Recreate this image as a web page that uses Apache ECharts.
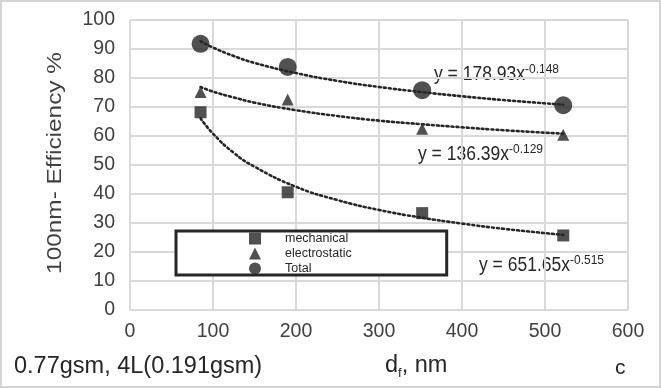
<!DOCTYPE html>
<html>
<head>
<meta charset="utf-8">
<script src="https://cdn.jsdelivr.net/npm/echarts@6/dist/echarts.min.js"></script>
<style>
	html, body { margin: 0; padding: 0; background: #fff; }
	#chart { width: 657px; height: 384px; border: 2px solid #d4d4d4; }
</style>
</head>
<body>
<div id="chart"></div>
<script>
// 数据
const xValues = [85, 190, 352, 522];
const mechanical = [68.2, 40.6, 33.4, 25.7];
const electrostatic = [75.2, 72.6, 62.5, 60.4];
const total = [91.8, 83.8, 75.8, 70.6];

// 趋势线
const trendX = [85, 100, 125, 150, 200, 250, 300, 350, 400, 450, 522];
const trendMech = [66.1, 60.8, 54.2, 49.4, 42.5, 37.9, 34.5, 31.9, 29.8, 28.0, 25.9];
const trendElec = [76.9, 75.3, 73.3, 71.5, 68.9, 66.9, 65.3, 64.1, 63.0, 62.0, 60.8];
const trendTotal = [92.7, 90.5, 87.6, 85.2, 81.7, 79.0, 76.9, 75.2, 73.7, 72.4, 70.8];

const xTicks = [0, 100, 200, 300, 400, 500, 600];
const yTicks = [0, 10, 20, 30, 40, 50, 60, 70, 80, 90, 100];

const ink = '#262626';
const font = 'Liberation Sans, Arial, sans-serif';

const chart = echarts.init(document.getElementById('chart'));

const pair = function (xs, ys) {
	return xs.map(function (x, i) { return [x, ys[i]]; });
};

const trend = function (name, data) {
	return {
		name: name,
		type: 'line',
		data: data,
		smooth: true,
		showSymbol: false,
		silent: true,
		z: 1,
		lineStyle: { color: ink, width: 2.6, type: [2, 3], cap: 'round' }
	};
};

// 趋势线公式 (带上标)
const equation = function (left, top, base, sup) {
	return {
		type: 'text', left: left, top: top, scaleY: 1.12,
		style: {
			text: '{b|' + base + '}{s|' + sup + '}', fontFamily: font,
			rich: {
				b: { fontSize: 17.5, fontFamily: font, fill: ink, lineHeight: 20 },
				s: { fontSize: 12, fontFamily: font, fill: ink, lineHeight: 12, verticalAlign: 'top' }
			}
		}
	};
};

const option = {
	animation: false,
	grid: { left: 128, right: 31, top: 18, bottom: 76 },
	xAxis: {
		type: 'value',
		min: xTicks[0],
		max: xTicks[xTicks.length - 1],
		interval: 100,
		axisLine: { show: true, lineStyle: { color: '#d9d9d9', width: 1 } },
		axisTick: { show: false },
		splitLine: { show: true, lineStyle: { color: '#d9d9d9', width: 2 } },
		axisLabel: { color: '#404040', fontSize: 19.5, fontFamily: font, margin: 12 }
	},
	yAxis: {
		type: 'value',
		min: yTicks[0],
		max: yTicks[yTicks.length - 1],
		interval: 10,
		axisLine: { show: false },
		axisTick: { show: false },
		splitLine: { show: true, lineStyle: { color: '#d9d9d9', width: 2 } },
		axisLabel: { color: '#404040', fontSize: 19.5, fontFamily: font, margin: 15 }
	},
	legend: {
		data: ['mechanical', 'electrostatic', 'Total'],
		orient: 'vertical',
		left: 174,
		top: 229,
		padding: [1, 95, 0, 73],
		itemGap: 2,
		itemWidth: 12,
		itemHeight: 12,
		borderColor: ink,
		borderWidth: 3,
		backgroundColor: '#fff',
		textStyle: { color: ink, fontSize: 12.5, fontFamily: font, padding: [0, 0, 0, 19] }
	},
	series: [
		trend('tMech', pair(trendX, trendMech)),
		trend('tElec', pair(trendX, trendElec)),
		trend('tTotal', pair(trendX, trendTotal)),
		{
			name: 'mechanical', type: 'scatter', symbol: 'rect', symbolSize: 12, z: 3,
			itemStyle: { color: ink }, data: pair(xValues, mechanical)
		},
		{
			name: 'electrostatic', type: 'scatter', symbol: 'triangle', symbolSize: [12, 12], z: 3,
			itemStyle: { color: ink }, data: pair(xValues, electrostatic)
		},
		{
			name: 'Total', type: 'scatter', symbol: 'circle', symbolSize: 18, z: 3,
			itemStyle: { color: ink }, data: pair(xValues, total)
		}
	],
	graphic: [
		{
			type: 'text', left: 43, top: 50, rotation: Math.PI / 2, scaleX: 1.19,
			style: { text: '100nm- Efficiency %', fontSize: 20.5, fontFamily: font, fill: '#404040' }
		},
		{
			type: 'text', left: 12, top: 353,
			style: { text: '0.77gsm, 4L(0.191gsm)', fontSize: 23.5, fontFamily: font, fill: ink }
		},
		{
			type: 'text', left: 383, top: 352,
			style: {
				text: '{b|d}{s|f}{b|, nm}', fontFamily: font, fill: ink,
				rich: {
					b: { fontSize: 23.5, fontFamily: font, fill: ink, lineHeight: 28 },
					s: { fontSize: 13, fontFamily: font, fill: ink, lineHeight: 22, verticalAlign: 'bottom' }
				}
			}
		},
		{
			type: 'text', left: 613, top: 356,
			style: { text: 'c', fontSize: 21, fontFamily: font, fill: ink }
		},
		equation(432, 61, 'y = 178.93x', '-0.148'),
		equation(416, 141, 'y = 136.39x', '-0.129'),
		equation(477, 252, 'y = 651.65x', '-0.515')
	]
};

chart.setOption(option);
</script>
</body>
</html>
